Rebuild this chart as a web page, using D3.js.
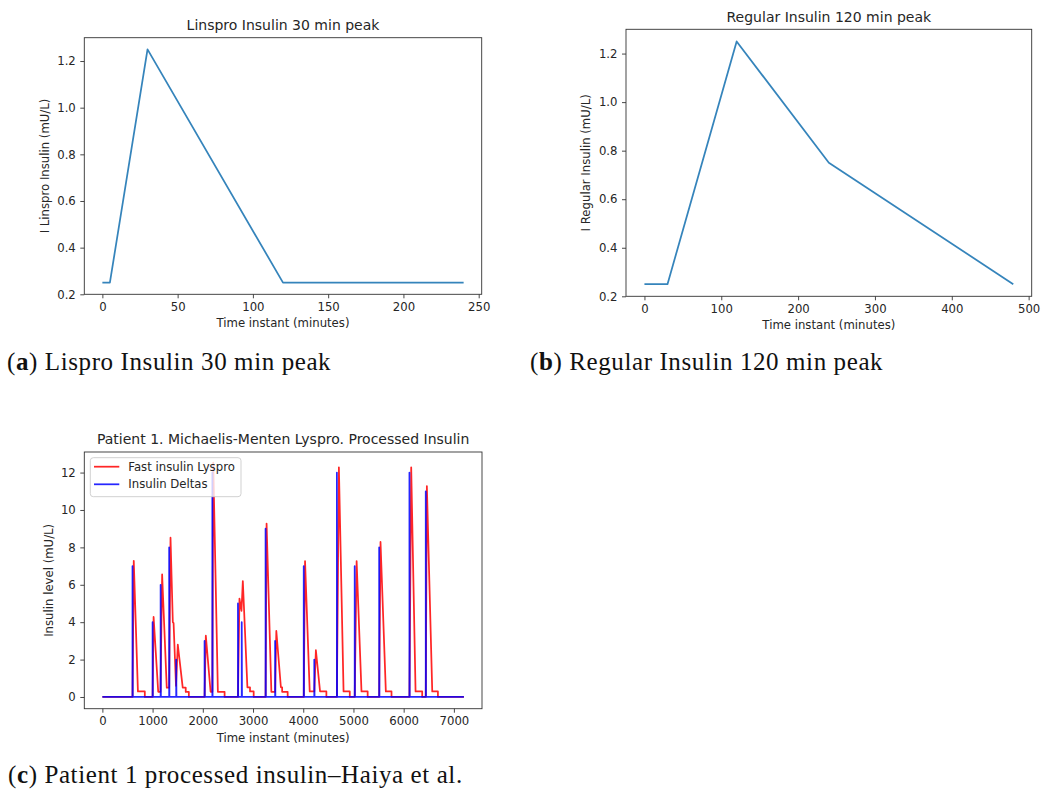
<!DOCTYPE html>
<html>
<head>
<meta charset="utf-8">
<script src="https://cdn.jsdelivr.net/npm/d3@7"></script>
<style>
  body { margin: 0; background: #fff; }
  svg { display: block; }
  .tick text { font-family: "DejaVu Sans", sans-serif; font-size: 11.7px; fill: #262626; }
  .tick line { stroke: #333; stroke-width: 0.9; }
  .ttl { font-family: "DejaVu Sans", sans-serif; font-size: 14px; fill: #262626; text-anchor: middle; }
  .lbl { font-family: "DejaVu Sans", sans-serif; font-size: 11.7px; fill: #262626; text-anchor: middle; }
  .cap { font-family: "Liberation Serif", serif; font-size: 25px; letter-spacing: 0.6px; fill: #111; }
</style>
</head>
<body>
<svg id="fig" width="1059" height="790"></svg>
<script>
// panel (a) lispro profile
var linsproTime = [0, 5, 30, 120, 240];
var linsproLevel = [0.25, 0.25, 1.25, 0.25, 0.25];
// panel (b) regular profile
var regularTime = [0, 30, 120, 240, 480];
var regularLevel = [0.25, 0.25, 1.25, 0.75, 0.25];

// panel (c) insulin deltas (doses)
var deltaTime = [600, 1000, 1160, 1330, 1470, 2035, 2190, 2700, 2775, 3250, 3440, 4010, 4220, 4670, 5025, 5512, 6115, 6440];
var deltaDose = [7, 4, 6, 8, 2, 3, 12, 5, 4, 9, 3, 7, 2, 12, 7, 8, 12, 11];

// panel (c) processed insulin, breakpoints
var redTime = [0, 600, 625, 708, 845, 845,
  1000, 1020, 1112, 1157, 1190, 1282, 1330, 1357, 1403, 1418, 1466, 1502, 1600, 1660, 1660, 1722, 1722,
  2035, 2060, 2155, 2190, 2208, 2300, 2434, 2434,
  2700, 2730, 2770, 2797, 2888, 2940, 2940, 3013, 3013,
  3250, 3270, 3365, 3440, 3464, 3555, 3580, 3580, 3690, 3690,
  4010, 4036, 4129, 4220, 4252, 4335, 4461, 4461,
  4670, 4710, 4803, 4927, 4927,
  5025, 5063, 5160, 5283, 5283,
  5512, 5539, 5645, 5758, 5758,
  6115, 6150, 6237, 6369, 6369,
  6440, 6462, 6569, 6682, 6682, 7200];
var redLevel = [0, 0, 7.28, 0.3, 0.3, 0,
  0, 4.28, 0.28, 0.28, 6.55, 0.5, 0.5, 8.52, 4.0, 3.95, 0.6, 2.8, 0.5, 0.5, 0.27, 0.27, 0,
  0, 3.28, 0.28, 0.28, 12.53, 0.28, 0.28, 0,
  0, 5.26, 4.6, 6.2, 0.52, 0.52, 0.3, 0.3, 0,
  0, 9.27, 0.28, 0.28, 3.53, 0.52, 0.52, 0.28, 0.28, 0,
  0, 7.27, 0.3, 0.3, 2.5, 0.3, 0.3, 0,
  0, 12.28, 0.3, 0.3, 0,
  0, 7.27, 0.3, 0.3, 0,
  0, 8.29, 0.3, 0.3, 0,
  0, 12.28, 0.3, 0.3, 0,
  0, 11.28, 0.3, 0.3, 0, 0];

var svg = d3.select("#fig");

function makePanel(o) {
  var x = d3.scaleLinear().domain(o.xDomain).range([o.left, o.right]);
  var y = d3.scaleLinear().domain(o.yDomain).range([o.bottom, o.top]);
  var g = svg.append("g");

  var xAxis = d3.axisBottom(x).tickValues(o.xTicks).tickFormat(d3.format("d"))
    .tickSize(4).tickPadding(4.5).tickSizeOuter(0);
  var yAxis = d3.axisLeft(y).tickValues(o.yTicks).tickFormat(d3.format(o.yFmt))
    .tickSize(4).tickPadding(4.5).tickSizeOuter(0);

  g.append("g").attr("transform", `translate(0,${o.bottom})`).call(xAxis)
    .call(s => s.select(".domain").remove());
  g.append("g").attr("transform", `translate(${o.left},0)`).call(yAxis)
    .call(s => s.select(".domain").remove());

  g.append("text").attr("class", "ttl")
    .attr("x", (o.left + o.right) / 2).attr("y", o.top - 7.8).text(o.title);
  g.append("text").attr("class", "lbl")
    .attr("x", (o.left + o.right) / 2).attr("y", o.bottom + 33).text(o.xLabel);
  g.append("text").attr("class", "lbl")
    .attr("transform", `translate(${o.yLabelX},${(o.top + o.bottom) / 2}) rotate(-90)`)
    .text(o.yLabel);

  return { g: g, x: x, y: y, o: o };
}

function frame(p) {
  var o = p.o;
  p.g.append("rect")
    .attr("x", o.left).attr("y", o.top)
    .attr("width", o.right - o.left).attr("height", o.bottom - o.top)
    .attr("fill", "none").attr("stroke", "#333").attr("stroke-width", 0.9);
}

function drawLine(p, xs, ys, color, w, op) {
  var line = d3.line().x(d => p.x(d[0])).y(d => p.y(d[1]));
  p.g.append("path")
    .datum(xs.map((t, i) => [t, ys[i]]))
    .attr("d", line)
    .attr("fill", "none")
    .attr("stroke", color)
    .attr("stroke-width", w)
    .attr("stroke-opacity", op)
    .attr("stroke-linejoin", "round");
}

// (a)
var pa = makePanel({
  left: 84.3, right: 481.7, top: 37.7, bottom: 294.3,
  xDomain: [-12, 252], yDomain: [0.2, 1.3],
  xTicks: [0, 50, 100, 150, 200, 250], yTicks: [0.2, 0.4, 0.6, 0.8, 1.0, 1.2], yFmt: ".1f",
  title: "Linspro Insulin 30 min peak", xLabel: "Time instant (minutes)",
  yLabel: "I Linspro Insulin (mU/L)", yLabelX: 48.5
});
drawLine(pa, linsproTime, linsproLevel, "#1f77b4", 1.75, 0.9);
frame(pa);

// (b)
var pb = makePanel({
  left: 626, right: 1031.7, top: 29.3, bottom: 296.3,
  xDomain: [-24, 504], yDomain: [0.2, 1.3],
  xTicks: [0, 100, 200, 300, 400, 500], yTicks: [0.2, 0.4, 0.6, 0.8, 1.0, 1.2], yFmt: ".1f",
  title: "Regular Insulin 120 min peak", xLabel: "Time instant (minutes)",
  yLabel: "I Regular Insulin (mU/L)", yLabelX: 590
});
drawLine(pb, regularTime, regularLevel, "#1f77b4", 1.75, 0.9);
frame(pb);

// (c)
var pc = makePanel({
  left: 84.3, right: 482, top: 452, bottom: 708.7,
  xDomain: [-360, 7560], yDomain: [-0.626, 13.1],
  xTicks: d3.range(0, 7001, 1000), yTicks: d3.range(0, 13, 2), yFmt: "d",
  title: "Patient 1. Michaelis-Menten Lyspro. Processed Insulin", xLabel: "Time instant (minutes)",
  yLabel: "Insulin level (mU/L)", yLabelX: 52.5
});

var blueTime = [0], blueLevel = [0];
deltaTime.forEach(function(t, i) {
  blueTime.push(t, t, t + 5);
  blueLevel.push(0, deltaDose[i], 0);
});
blueTime.push(7200); blueLevel.push(0);

drawLine(pc, redTime, redLevel, "#ff0000", 1.75, 0.85);
drawLine(pc, blueTime, blueLevel, "#0000ff", 1.75, 0.85);
frame(pc);

// legend
var legendItems = [
  { name: "Fast insulin Lyspro", color: "#ff0000" },
  { name: "Insulin Deltas", color: "#0000ff" }
];
var lg = pc.g.append("g").attr("transform", "translate(90.3,457.7)");
lg.append("rect").attr("width", 150.7).attr("height", 39).attr("rx", 3)
  .attr("fill", "#fff").attr("fill-opacity", 0.8)
  .attr("stroke", "#cccccc").attr("stroke-width", 0.9);
legendItems.forEach(function(d, i) {
  var yy = 9 + i * 17.6;
  lg.append("line").attr("x1", 3.7).attr("x2", 29).attr("y1", yy).attr("y2", yy)
    .attr("stroke", d.color).attr("stroke-width", 1.75).attr("stroke-opacity", 0.85);
  lg.append("text").attr("x", 38).attr("y", yy + 4.2)
    .attr("font-family", "DejaVu Sans, sans-serif").attr("font-size", "11.7px")
    .attr("fill", "#262626").text(d.name);
});

// captions
var captions = [
  { tag: "a", text: " Lispro Insulin 30 min peak", x: 7, y: 370 },
  { tag: "b", text: " Regular Insulin 120 min peak", x: 530, y: 370 },
  { tag: "c", text: " Patient 1 processed insulin\u2013Haiya et al.", x: 8, y: 783 }
];
captions.forEach(function(c) {
  var t = svg.append("text").attr("class", "cap").attr("x", c.x).attr("y", c.y);
  t.append("tspan").text("(");
  t.append("tspan").attr("font-weight", "bold").text(c.tag);
  t.append("tspan").text(")" + c.text);
});
</script>
</body>
</html>
